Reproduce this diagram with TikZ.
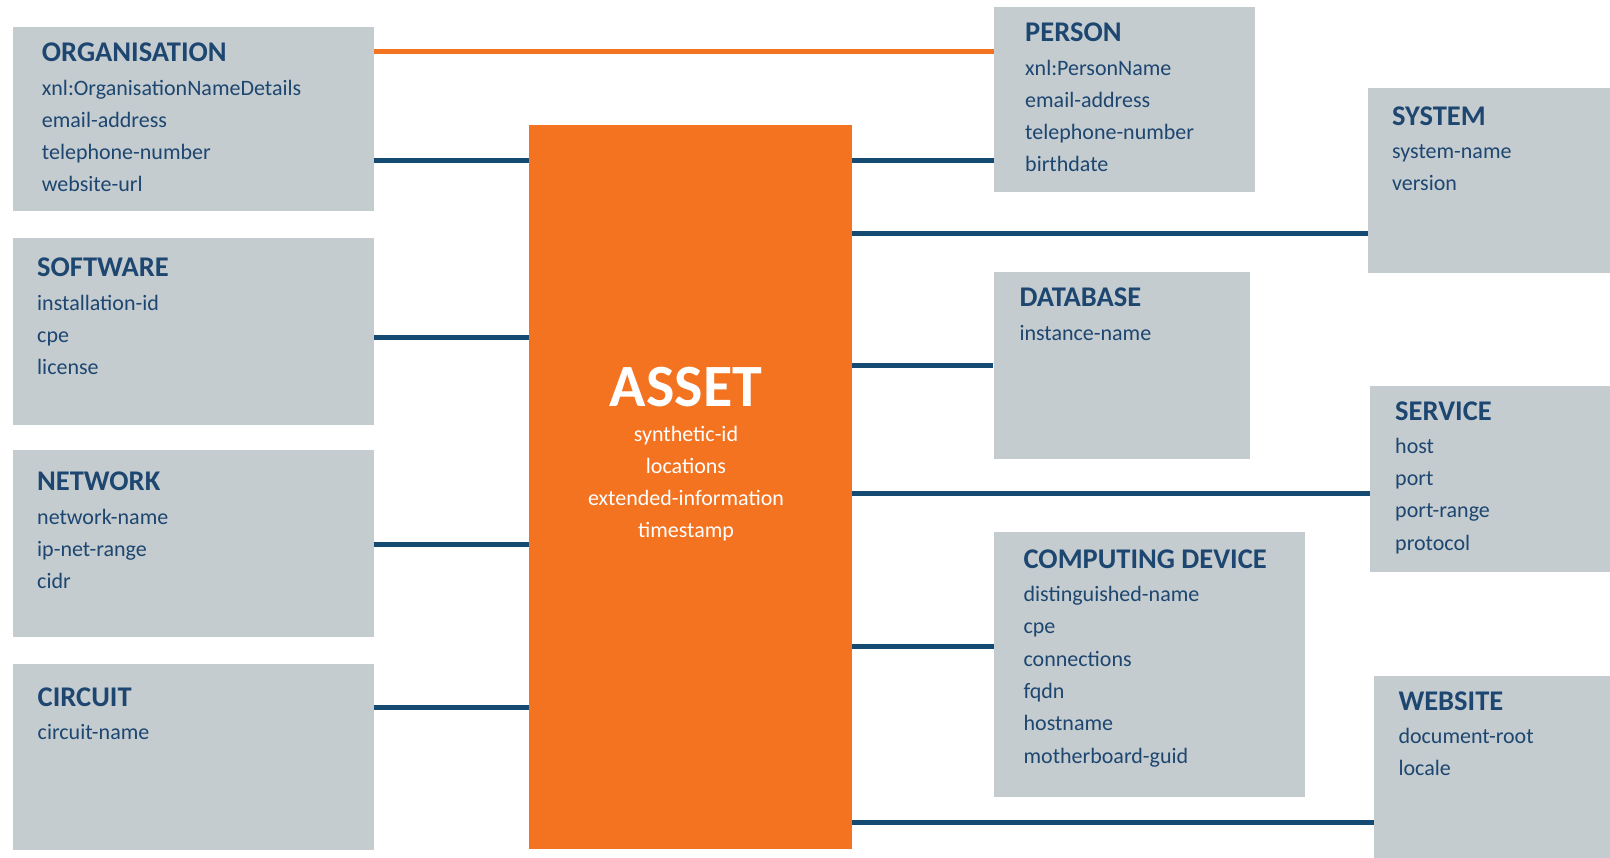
\documentclass[tikz,border=0pt]{standalone}
\usepackage{fontspec}
\setmainfont{Carlito}
\usepackage{xcolor}
\usetikzlibrary{positioning}
\definecolor{assetorange}{HTML}{F37321}
\definecolor{boxgrey}{HTML}{C4CCCF}
\definecolor{linkblue}{HTML}{154A73}
\definecolor{textblue}{HTML}{1D4670}
\tikzstyle{box} = [fill=boxgrey, anchor=north west, inner sep=0pt]
\tikzstyle{boxtext} = [anchor=north west, inner sep=0pt, align=left, text=textblue, font=\fontsize{22}{32.3}\selectfont]
\tikzstyle{connector} = [linkblue, line width=5pt]
\newcommand{\boxhead}[1]{{\bfseries\fontsize{28.5}{32.3}\selectfont #1}}

\begin{document}
\begin{tikzpicture}[x=1pt, y=-1pt]

\useasboundingbox (0,0) rectangle (1610,858);
\fill [white] (0,0) rectangle (1610,858);

% centre block
\node [box, fill=assetorange, minimum width=323pt, minimum height=724pt] (asset) at (529,125) {};
\node [anchor=north, inner sep=0pt, align=center, text=white, font=\fontsize{22}{32.3}\selectfont] (assettext) at (686,366.5)
  {{\bfseries\fontsize{60}{62}\selectfont ASSET}\\[2.7pt] synthetic-id\\ locations\\ extended-information\\ timestamp};

% left column
\node [box, minimum width=361pt, minimum height=184pt] (org) at (12.3,27) {};
\node [boxtext] (orgtext) at (41.7,42.9) {\boxhead{ORGANISATION}\\[1pt] xnl:OrganisationNameDetails\\ email-address\\ telephone-number\\ website-url};

\node [box, minimum width=361pt, minimum height=186.7pt] (software) at (12.3,238.3) {};
\node [boxtext] (softwaretext) at (37,257.9) {\boxhead{SOFTWARE}\\[1pt] installation-id\\ cpe\\ license};

\node [box, minimum width=361pt, minimum height=186.7pt] (network) at (12.3,450) {};
\node [boxtext] (networktext) at (37,471.9) {\boxhead{NETWORK}\\[1pt] network-name\\ ip-net-range\\ cidr};

\node [box, minimum width=361pt, minimum height=186pt] (circuit) at (12.3,663.3) {};
\node [boxtext] (circuittext) at (37.5,687.2) {\boxhead{CIRCUIT}\\[1pt] circuit-name};

% right side
\node [box, minimum width=261pt, minimum height=185pt] (person) at (994,7) {};
\node [boxtext] (persontext) at (1025,22.9) {\boxhead{PERSON}\\[1pt] xnl:PersonName\\ email-address\\ telephone-number\\ birthdate};

\node [box, minimum width=242pt, minimum height=185pt] (system) at (1368,88.3) {};
\node [boxtext] (systemtext) at (1392,106.2) {\boxhead{SYSTEM}\\[1pt] system-name\\ version};

\node [box, minimum width=256.7pt, minimum height=187.3pt] (database) at (993.3,271.7) {};
\node [boxtext] (databasetext) at (1019.3,287.9) {\boxhead{DATABASE}\\[1pt] instance-name};

\node [box, minimum width=240pt, minimum height=185.7pt] (service) at (1370,386) {};
\node [boxtext] (servicetext) at (1395,401.2) {\boxhead{SERVICE}\\[1pt] host\\ port\\ port-range\\ protocol};

\node [box, minimum width=310.5pt, minimum height=265.3pt] (computing) at (994,531.7) {};
\node [boxtext] (computingtext) at (1023.4,549.5) {\boxhead{COMPUTING DEVICE}\\[1pt] distinguished-name\\ cpe\\ connections\\ fqdn\\ hostname\\ motherboard-guid};

\node [box, minimum width=236pt, minimum height=182pt] (website) at (1374,676) {};
\node [boxtext] (websitetext) at (1398.3,691.2) {\boxhead{WEBSITE}\\[1pt] document-root\\ locale};

% connections
\draw [assetorange, line width=5pt] (0,52 -| org.east) -- (0,52 -| person.west);

\draw [connector] (0,161 -| org.east) -- (0,161 -| asset.west);
\draw [connector] (0,337.3 -| software.east) -- (0,337.3 -| asset.west);
\draw [connector] (0,544 -| network.east) -- (0,544 -| asset.west);
\draw [connector] (0,707.3 -| circuit.east) -- (0,707.3 -| asset.west);

\draw [connector] (0,161 -| asset.east) -- (0,161 -| person.west);
\draw [connector] (0,233.3 -| asset.east) -- (0,233.3 -| system.west);
\draw [connector] (0,365.3 -| asset.east) -- (0,365.3 -| database.west);
\draw [connector] (0,493.3 -| asset.east) -- (0,493.3 -| service.west);
\draw [connector] (0,646.7 -| asset.east) -- (0,646.7 -| computing.west);
\draw [connector] (0,822.7 -| asset.east) -- (0,822.7 -| website.west);

\end{tikzpicture}
\end{document}
